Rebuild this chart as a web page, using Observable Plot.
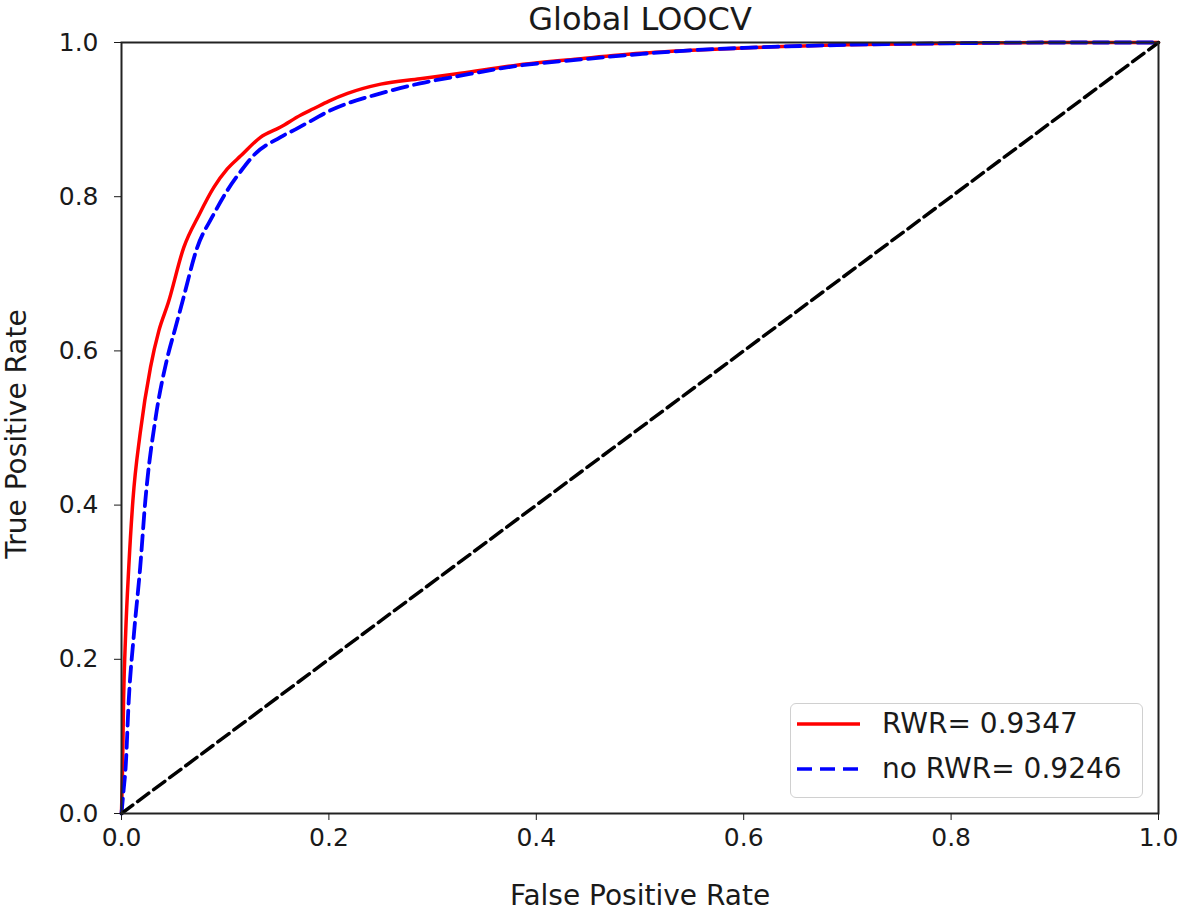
<!DOCTYPE html>
<html>
<head>
<meta charset="utf-8">
<script src="https://cdn.jsdelivr.net/npm/d3@7"></script>
<script src="https://cdn.jsdelivr.net/npm/@observablehq/plot@0.6"></script>
<style>
  html, body { margin: 0; padding: 0; background: #fff; }
  #wrap { position: relative; width: 1180px; height: 914px; font-family: "DejaVu Sans", sans-serif; }
  #legend {
    position: absolute; left: 790px; top: 703px; width: 351px; height: 93px;
    border: 1.5px solid #d0d0d0; border-radius: 6px; background: rgba(255,255,255,0.85);
    font-size: 28px; color: #1a1a1a;
  }
  #legend svg { position: absolute; left: 0; top: 0; }
  #legend span { position: absolute; left: 91px; line-height: 34px; white-space: nowrap; }
</style>
</head>
<body>
<div id="wrap"></div>
<script>
const title = "Global LOOCV";
const xLabel = "False Positive Rate";
const yLabel = "True Positive Rate";
const ticks = [0, 0.2, 0.4, 0.6, 0.8, 1.0];

const rwrName = "RWR= 0.9347";
const rwrFpr = [0, 0.0005, 0.001, 0.002, 0.004, 0.007, 0.011, 0.018, 0.028, 0.036, 0.045, 0.060, 0.075, 0.089, 0.102, 0.115, 0.134, 0.153, 0.173, 0.185, 0.200, 0.218, 0.250, 0.288, 0.327, 0.378, 0.443, 0.50, 0.55, 0.60, 0.70, 0.80, 0.90, 1.0];
const rwrTpr = [0, 0.03, 0.06, 0.147, 0.233, 0.319, 0.406, 0.493, 0.579, 0.626, 0.662, 0.734, 0.777, 0.812, 0.836, 0.853, 0.877, 0.890, 0.906, 0.914, 0.924, 0.934, 0.946, 0.953, 0.960, 0.970, 0.979, 0.986, 0.990, 0.993, 0.997, 0.999, 1.0, 1.0];

const noName = "no RWR= 0.9246";
const noFpr = [0, 0.002, 0.004, 0.007, 0.012, 0.018, 0.023, 0.033, 0.044, 0.052, 0.059, 0.073, 0.088, 0.102, 0.115, 0.127, 0.153, 0.170, 0.185, 0.200, 0.218, 0.250, 0.288, 0.327, 0.378, 0.443, 0.50, 0.55, 0.60, 0.70, 0.80, 0.90, 1.0];
const noTpr = [0, 0.03, 0.06, 0.147, 0.233, 0.319, 0.406, 0.514, 0.590, 0.630, 0.665, 0.734, 0.775, 0.808, 0.833, 0.853, 0.877, 0.889, 0.900, 0.911, 0.921, 0.934, 0.947, 0.957, 0.969, 0.978, 0.985, 0.990, 0.993, 0.997, 0.999, 1.0, 1.0];

const diagX = [0, 1];
const diagY = [0, 1];

const rwr = rwrFpr.map((x, i) => ({x, y: rwrTpr[i]}));
const no = noFpr.map((x, i) => ({x, y: noTpr[i]}));
const diag = diagX.map((x, i) => ({x, y: diagY[i]}));

const ink = "#1a1a1a";
const chart = Plot.plot({
  width: 1180,
  height: 914,
  marginLeft: 121,
  marginRight: 22,
  marginTop: 42,
  marginBottom: 101,
  style: {fontFamily: "DejaVu Sans, sans-serif", fontSize: "25px", color: ink, background: "#fff"},
  x: {domain: [0, 1]},
  y: {domain: [0, 1]},
  marks: [
    Plot.line(rwr, {x: "x", y: "y", stroke: "#ff0000", strokeWidth: 3.5, curve: "monotone-x"}),
    Plot.line(no, {x: "x", y: "y", stroke: "#0000ff", strokeWidth: 3.8, strokeDasharray: "15,7", curve: "monotone-x"}),
    Plot.line(diag, {x: "x", y: "y", stroke: "#000", strokeWidth: 3.5, strokeDasharray: "14,6"}),
    Plot.frame({stroke: "#222", strokeWidth: 2}),
    Plot.axisX({ticks, tickFormat: d3.format(".1f"), tickSize: 7, tickPadding: 8, fontSize: 25, label: null}),
    Plot.axisY({ticks, tickFormat: d3.format(".1f"), tickSize: 7, tickPadding: 16, fontSize: 25, label: null}),
    Plot.text([xLabel], {frameAnchor: "bottom", lineAnchor: "middle", textAnchor: "middle", dy: 83, fontSize: 28, fill: ink}),
    Plot.text([yLabel], {frameAnchor: "left", lineAnchor: "middle", textAnchor: "middle", dx: -104, dy: 6, rotate: -90, fontSize: 28, fill: ink}),
    Plot.text([title], {frameAnchor: "top", lineAnchor: "middle", textAnchor: "middle", dy: -23, fontSize: 32, fill: ink})
  ]
});
const wrap = document.getElementById("wrap");
wrap.appendChild(chart);

const legend = document.createElement("div");
legend.id = "legend";
legend.innerHTML = `<svg width="90" height="93">
  <line x1="6" x2="69" y1="20" y2="20" stroke="#ff0000" stroke-width="3.5"/>
  <line x1="6" x2="69" y1="65" y2="65" stroke="#0000ff" stroke-width="3.5" stroke-dasharray="15,8"/>
</svg>
<span style="top:3px">${rwrName}</span>
<span style="top:48px">${noName}</span>`;
wrap.appendChild(legend);
</script>
</body>
</html>
